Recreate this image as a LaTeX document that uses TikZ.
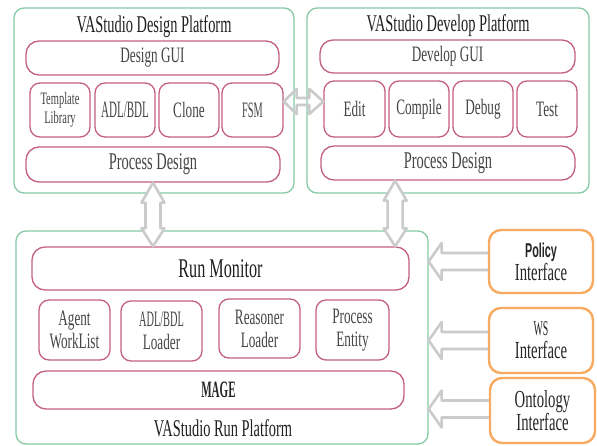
\documentclass[tikz,border=0pt]{standalone}
\usepackage{fontspec}
\setmainfont{Liberation Serif}[FakeStretch=0.6]
\newfontfamily\narrowfont{Liberation Serif}[FakeStretch=0.47]
\newfontfamily\policyfont{Liberation Sans}[FakeStretch=0.54]
\usetikzlibrary{calc}

\definecolor{platgreen}{HTML}{86C9A6}
\definecolor{modpink}{HTML}{C4607E}
\definecolor{iforange}{HTML}{F7AA60}
\definecolor{arrowgray}{HTML}{CBCBCB}
\definecolor{labelgray}{HTML}{454545}

\tikzset{
  outerbox/.style={draw=platgreen, line width=1.3pt, rounded corners=10pt, inner sep=0pt},
  modbox/.style={draw=modpink, line width=1.3pt, rounded corners=13pt, inner sep=0pt,
    text=labelgray, font=\fontsize{22}{23}\selectfont, align=center},
  smallbox/.style={modbox, rounded corners=10pt},
  ifbox/.style={draw=iforange, line width=2.4pt, rounded corners=12pt, inner sep=0pt,
    text=black!85, font=\fontsize{24.5}{23}\selectfont, align=center},
  titletext/.style={text=black!88, font=\fontsize{24}{24}\selectfont, inner sep=0pt},
  blockarrow/.style={draw=arrowgray, line width=2.6pt, line join=round},
}

% hollow double arrow, vertical: #1 top tip, #2 bottom tip
\newcommand\vdoublearrow[2]{%
  \filldraw[blockarrow, fill=white] let \p1=(#1), \p2=(#2) in
    (\x1,\y1) -- (\x1+11.5pt,\y1-20pt) -- (\x1+7.5pt,\y1-20pt) -- (\x1+7.5pt,\y2+18pt)
    -- (\x1+11.5pt,\y2+18pt) -- (\x1,\y2) -- (\x1-11.5pt,\y2+18pt) -- (\x1-7.5pt,\y2+18pt)
    -- (\x1-7.5pt,\y1-20pt) -- (\x1-11.5pt,\y1-20pt) -- cycle;}
% hollow double arrow, horizontal: #1 left tip, #2 right tip
\newcommand\hdoublearrow[2]{%
  \draw[blockarrow] let \p1=(#1), \p2=(#2) in
    (\x1,\y1) -- (\x1+13pt,\y1+12.5pt) -- (\x1+13pt,\y1+3.5pt) -- (\x2-14pt,\y1+3.5pt)
    -- (\x2-14pt,\y1+12.5pt) -- (\x2,\y1) -- (\x2-14pt,\y1-12.5pt) -- (\x2-14pt,\y1-3.5pt)
    -- (\x1+13pt,\y1-3.5pt) -- (\x1+13pt,\y1-12.5pt) -- cycle;}
% hollow arrow pointing left: #1 tip, #2 tail
\newcommand\leftblockarrow[2]{%
  \draw[blockarrow] let \p1=(#1), \p2=(#2) in
    (\x2,\y1+8.5pt) -- (\x1+13pt,\y1+8.5pt) -- (\x1+13pt,\y1+18.5pt) -- (\x1,\y1)
    -- (\x1+13pt,\y1-18.5pt) -- (\x1+13pt,\y1-8.5pt) -- (\x2,\y1-8.5pt);}

\begin{document}
\begin{tikzpicture}[x=1pt,y=-1pt]
\fill[white] (0,0) rectangle (597,446);
\useasboundingbox (0,0) rectangle (597,446);

% ---- design platform
\node[outerbox, minimum width=280, minimum height=185] (design) at (154,100.5) {};
\node[titletext] (designtitle) at (154,27) {VAStudio Design Platform};
\node[modbox, minimum width=253, minimum height=34] (dgui) at (152.5,58) {Design GUI};
\node[smallbox, minimum width=60, minimum height=54, font=\fontsize{17.5}{19}\selectfont] (tmpl) at (60,110) {Template\\Library};
\node[smallbox, minimum width=60, minimum height=54, font=\narrowfont\fontsize{23.5}{23}\selectfont] (adl) at (125,110) {ADL/BDL};
\node[smallbox, minimum width=60, minimum height=54] (clone) at (189,110) {Clone};
\node[smallbox, minimum width=61, minimum height=54, font=\narrowfont\fontsize{22}{23}\selectfont] (fsm) at (252.5,110) {FSM};
\node[modbox, minimum width=254, minimum height=35, font=\fontsize{24}{23}\selectfont] (dproc) at (153,164.5) {Process Design};

% ---- develop platform
\node[outerbox, minimum width=282, minimum height=185] (develop) at (448,100.5) {};
\node[titletext] (developtitle) at (448,26) {VAStudio Develop Platform};
\node[modbox, minimum width=255, minimum height=33] (vgui) at (447.5,56.5) {Develop GUI};
\node[smallbox, minimum width=61, minimum height=56] (edit) at (354.5,109) {Edit};
\node[smallbox, minimum width=60, minimum height=56] (compile) at (419,109) {Compile};
\node[smallbox, minimum width=60, minimum height=56] (debug) at (483,109) {Debug};
\node[smallbox, minimum width=60, minimum height=56] (test) at (547,109) {Test};
\node[modbox, minimum width=254, minimum height=34, font=\fontsize{24}{23}\selectfont] (vproc) at (448,163) {Process Design};

% ---- run platform
\node[outerbox, minimum width=412, minimum height=213] (run) at (222,337.5) {};
\node[modbox, minimum width=377, minimum height=43, text=black!88, font=\fontsize{27}{26}\selectfont] (runmon) at (220.5,268.5) {Run Monitor};
\node[smallbox, minimum width=71, minimum height=60] (agent) at (74.5,330) {Agent\\WorkList};
\node[smallbox, minimum width=81, minimum height=60] (loader) at (161.5,331) {{\narrowfont ADL/BDL}\\Loader};
\node[smallbox, minimum width=81, minimum height=59] (reasoner) at (259.5,328.5) {Reasoner\\Loader};
\node[smallbox, minimum width=73, minimum height=60] (entity) at (352.5,330) {Process\\Entity};
\node[modbox, minimum width=371, minimum height=38, text=black!85, font=\narrowfont\bfseries\fontsize{23.5}{23}\selectfont] (mage) at (218.5,390) {MAGE};
\node[titletext] (runtitle) at (223,428) {VAStudio Run Platform};

% ---- external interfaces
\node[ifbox, minimum width=104, minimum height=63] (policy) at (541,261.5) {{\policyfont\bfseries\fontsize{20}{23}\selectfont Policy}\\Interface};
\node[ifbox, minimum width=104, minimum height=65] (ws) at (541,340.5) {{\narrowfont\fontsize{21}{23}\selectfont WS}\\Interface};
\node[ifbox, minimum width=105, minimum height=65] (onto) at (542.5,410.5) {Ontology\\Interface};

% ---- connectors
\coordinate (dtip) at (dproc.south);
\coordinate (dbase) at (dproc.south |- runmon.north);
\vdoublearrow{dtip}{dbase}

\coordinate (vtip) at ($(vproc.south west)!0.293!(vproc.south east)$);
\coordinate (vbase) at (vtip |- runmon.north);
\vdoublearrow{vtip}{vbase}

\coordinate (fsmtip) at ($(fsm.east)+(0,-8.5)$);
\coordinate (edittip) at (edit.west |- fsmtip);
\hdoublearrow{fsmtip}{edittip}

\coordinate (policytip) at (run.east |- policy.west);
\leftblockarrow{policytip}{policy.west}
\coordinate (wstip) at (run.east |- ws.west);
\leftblockarrow{wstip}{ws.west}
\coordinate (ontotip) at ($(run.east |- onto.west)+(0,-1.5)$);
\coordinate (ontotail) at ($(onto.west)+(0,-1.5)$);
\leftblockarrow{ontotip}{ontotail}
\end{tikzpicture}
\end{document}
